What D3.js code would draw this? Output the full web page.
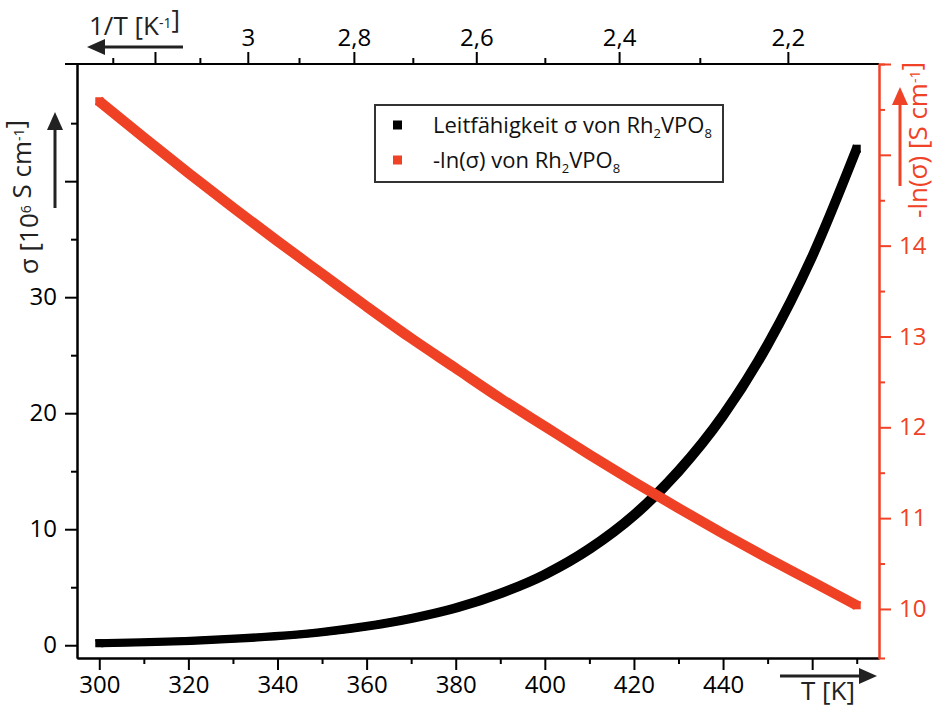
<!DOCTYPE html>
<html>
<head>
<meta charset="utf-8">
<script src="https://cdn.jsdelivr.net/npm/d3@7"></script>
<style>
  body { margin: 0; background: #fff; }
  svg { display: block; font-family: 'Open Sans', sans-serif; }
  .axis text { font-size: 24px; font-family: 'Open Sans', sans-serif; }
  .axis path, .axis line { stroke-width: 2; }
</style>
</head>
<body>
<svg width="936" height="710"></svg>
<script>
const RED = '#ef4226'

// temperature in K
const temps = [300, 310, 320, 330, 340, 350, 360, 370, 380, 390, 400, 410, 420, 430, 440, 450, 460, 470]
// conductivity sigma [10^6 S cm^-1]
const sigma = [0.17, 0.25, 0.37, 0.55, 0.79, 1.13, 1.63, 2.31, 3.21, 4.46, 6.09, 8.3, 11.2, 15.0, 19.8, 25.9, 33.5, 42.8]
// -ln(sigma)
const negLnSigma = [15.59, 15.19, 14.80, 14.42, 14.05, 13.69, 13.33, 12.98, 12.65, 12.32, 12.01, 11.70, 11.40, 11.11, 10.83, 10.56, 10.30, 10.04]

const bottomMajor = [300, 320, 340, 360, 380, 400, 420, 440, 460]
const bottomMinor = [310, 330, 350, 370, 390, 410, 430, 450, 470]
const bottomLabels = ['300', '320', '340', '360', '380', '400', '420', '440', '']
const topMajor = [2.2, 2.4, 2.6, 2.8, 3.0, 3.2]
const topMinor = [2.3, 2.5, 2.7, 2.9, 3.1, 3.3]
const topLabels = ['2,2', '2,4', '2,6', '2,8', '3', '']
const leftMajor = [0, 10, 20, 30, 40]
const leftMinor = [5, 15, 25, 35, 45]
const leftLabels = ['0', '10', '20', '30', '']
const rightMajor = [10, 11, 12, 13, 14, 15, 16]
const rightMinor = [10.5, 11.5, 12.5, 13.5, 14.5, 15.5]
const rightLabels = ['10', '11', '12', '13', '14', '', '']

const L = 77, R = 879, TOP = 64, BOT = 658

const svg = d3.select('svg')
svg.append('rect').attr('width', 936).attr('height', 710).attr('fill', '#fff')

const x = d3.scaleLinear().domain([295, 475]).range([L, R])
const yL = d3.scaleLinear().domain([-1.1, 50.1]).range([BOT, TOP])
const yR = d3.scaleLinear().domain([9.46, 16.0]).range([BOT, TOP])

// 1/T scale (values in 10^-3 K^-1) mapped onto the T axis
const inv = v => x(1000 / v)
inv.copy = () => inv
inv.range = () => x.range()

const fmt = labels => (d, i) => labels[i]

// bottom axis
const gB = svg.append('g').attr('class', 'axis').attr('transform', `translate(0,${BOT})`)
gB.call(d3.axisBottom(x).tickValues(bottomMinor).tickSize(6).tickFormat('').tickSizeOuter(0))
gB.append('g').call(d3.axisBottom(x).tickValues(bottomMajor).tickSize(12).tickPadding(6)
  .tickFormat(fmt(bottomLabels)).tickSizeOuter(0))

// top axis (1/T)
const gT = svg.append('g').attr('class', 'axis').attr('transform', `translate(0,${TOP})`)
gT.call(d3.axisTop(inv).tickValues(topMinor).tickSize(6).tickFormat('').tickSizeOuter(0))
gT.append('g').call(d3.axisTop(inv).tickValues(topMajor).tickSize(12).tickPadding(6)
  .tickFormat(fmt(topLabels)).tickSizeOuter(0))
gT.selectAll('.domain').remove()
svg.append('line').attr('x1', 65).attr('x2', R).attr('y1', TOP).attr('y2', TOP)
  .attr('stroke', '#000').attr('stroke-width', 2)

// left axis
const gL = svg.append('g').attr('class', 'axis').attr('transform', `translate(${L},0)`)
gL.call(d3.axisLeft(yL).tickValues(leftMinor).tickSize(6).tickFormat('').tickSizeOuter(0))
gL.append('g').call(d3.axisLeft(yL).tickValues(leftMajor).tickSize(12).tickPadding(8)
  .tickFormat(fmt(leftLabels)).tickSizeOuter(0))

// right axis (red)
const gR = svg.append('g').attr('class', 'axis').attr('transform', `translate(${R},0)`)
gR.call(d3.axisRight(yR).tickValues(rightMinor).tickSize(6).tickFormat('').tickSizeOuter(6))
gR.append('g').call(d3.axisRight(yR).tickValues(rightMajor).tickSize(12).tickPadding(8)
  .tickFormat(fmt(rightLabels)).tickSizeOuter(0))
gR.selectAll('path, line').attr('stroke', RED)
gR.selectAll('text').attr('fill', RED)

// data bands: the curve swept by a square marker
const drawBand = (ys, yScale, color, dir) => {
  const pts = temps.map((t, i) => [x(t), yScale(ys[i])])
  const line = d3.line().curve(d3.curveMonotoneX)
  const d = line(pts)
  const g = svg.append('g')
  const a = 3
  d3.range(-1, 1.01, 0.2).forEach(t => {
    g.append('path').attr('d', d)
      .attr('transform', `translate(${t * a},${dir * t * a})`)
      .attr('fill', 'none').attr('stroke', color)
      .attr('stroke-width', 2).attr('stroke-linecap', 'square')
  })
  const s = 2 * a + 2
  g.selectAll('rect').data([pts[0], pts[pts.length - 1]]).join('rect')
    .attr('x', p => p[0] - s / 2).attr('y', p => p[1] - s / 2)
    .attr('width', s).attr('height', s).attr('fill', color)
}
drawBand(sigma, yL, '#000', 1)
drawBand(negLnSigma, yR, RED, -1)

// axis titles with arrows
const arrow = (x1, y1, x2, y2, color) => {
  const ang = Math.atan2(y2 - y1, x2 - x1)
  const hl = 18, hw = 8
  const bx = x2 - hl * Math.cos(ang), by = y2 - hl * Math.sin(ang)
  svg.append('line').attr('x1', x1).attr('y1', y1).attr('x2', bx).attr('y2', by)
    .attr('stroke', color).attr('stroke-width', 3)
  svg.append('path')
    .attr('d', `M${x2},${y2} L${bx - hw * Math.sin(ang)},${by + hw * Math.cos(ang)} L${bx + hw * Math.sin(ang)},${by - hw * Math.cos(ang)} Z`)
    .attr('fill', color)
}

const title = (tx, ty, rot, parts, color) => {
  const t = svg.append('text').attr('transform', `translate(${tx},${ty}) rotate(${rot})`)
    .attr('font-size', 26).attr('fill', color).attr('text-anchor', rot ? 'middle' : 'start')
  parts.forEach(p => {
    if (p.sup) {
      t.append('tspan').attr('font-size', 14).attr('dy', -7).text(p.sup)
      t.append('tspan').attr('dy', 7).text('')
    } else {
      t.append('tspan').text(p.t)
    }
  })
}

title(89, 35, 0, [{t: '1/T [K'}, {sup: '-1'}, {t: ']'}], '#222')
arrow(183, 47, 87, 47, '#222')

title(801, 700, 0, [{t: 'T [K]'}], '#222')
arrow(780, 676, 877, 676, '#222')

title(38, 197, -90, [{t: 'σ [10'}, {sup: '6'}, {t: ' S cm'}, {sup: '-1'}, {t: ']'}], '#222')
arrow(55, 208, 55, 112, '#222')

title(927, 140, -90, [{t: '-ln(σ) [S cm'}, {sup: '-1'}, {t: ']'}], RED)
arrow(900, 186, 900, 87, RED)

// legend
const leg = svg.append('g')
leg.append('rect').attr('x', 375).attr('y', 105).attr('width', 348).attr('height', 77)
  .attr('fill', '#fff').attr('stroke', '#333').attr('stroke-width', 2)
const legItems = [
  {color: '#000', parts: ['Leitfähigkeit σ von Rh', '2', 'VPO', '8']},
  {color: RED, parts: ['-ln(σ) von Rh', '2', 'VPO', '8']},
]
legItems.forEach((it, i) => {
  const yy = 125 + i * 35
  leg.append('rect').attr('x', 393).attr('y', yy - 4.5).attr('width', 9).attr('height', 9).attr('fill', it.color)
  const t = leg.append('text').attr('x', 433).attr('y', yy + 8).attr('font-size', 22).attr('fill', '#111')
  it.parts.forEach((p, j) => {
    if (j % 2 === 1) {
      t.append('tspan').attr('font-size', 13).attr('dy', 5).text(p)
    } else {
      t.append('tspan').attr('dy', j ? -5 : 0).text(p)
    }
  })
})
</script>
</body>
</html>
